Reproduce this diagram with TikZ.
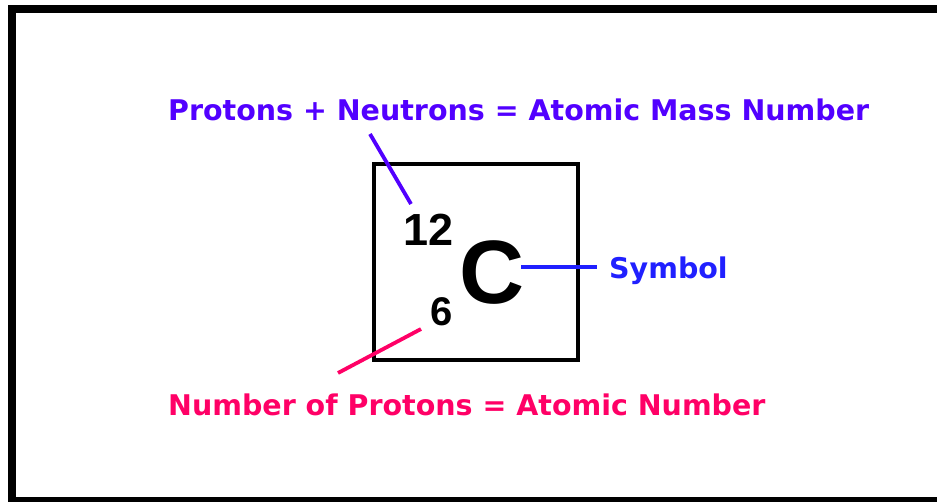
\documentclass[tikz,border=0pt]{standalone}
\usepackage{fontspec}
\setmainfont{DejaVu Sans}
\newfontfamily\arialfont{Liberation Sans}
\definecolor{purp}{HTML}{5200FF}
\definecolor{symb}{HTML}{2020FF}
\definecolor{pinkc}{HTML}{FF0066}
\tikzset{
  lbl/.style={inner sep=0pt, font=\fontsize{28.5}{31}\selectfont\bfseries},
  num/.style={inner sep=0pt, font=\arialfont\bfseries},
  conn/.style={line width=3.8pt},
}
\begin{document}
\begin{tikzpicture}[x=1pt,y=-1pt]
\useasboundingbox (0,0) rectangle (937,501);
\draw[line width=8pt] (11.5,9) rectangle (980,501);
\node[draw, line width=4.5pt, minimum width=204pt, minimum height=196pt, inner sep=0pt] (box) at (476,262) {};
\node[lbl, text=purp, anchor=base west] (mass) at (168,120) {Protons + Neutrons = Atomic Mass Number};
\node[lbl, text=pinkc, anchor=base west] (atomic) at (168,415) {Number of Protons = Atomic Number};
\node[lbl, text=symb, anchor=base west] (symbol) at (609,278) {Symbol};
\node[num, font=\arialfont\bfseries\fontsize{45}{50}\selectfont, anchor=base] (twelve) at (429,245) {12};
\node[num, font=\arialfont\bfseries\fontsize{40}{44}\selectfont, anchor=base] (six) at (442,325) {6};
\node[num, font=\arialfont\bfseries\fontsize{90}{96}\selectfont, anchor=base] (csym) at (492,303) {C};
\coordinate (m1) at (370,134);
\coordinate (m2) at (411,204);
\coordinate (a1) at (338,373);
\coordinate (a2) at (421,329);
\coordinate (s1) at (521,267);
\coordinate (s2) at (597,267);
\draw[conn, purp] (m1) -- (m2);
\draw[conn, pinkc] (a1) -- (a2);
\draw[conn, symb] (s1) -- (s2);
\end{tikzpicture}
\end{document}
